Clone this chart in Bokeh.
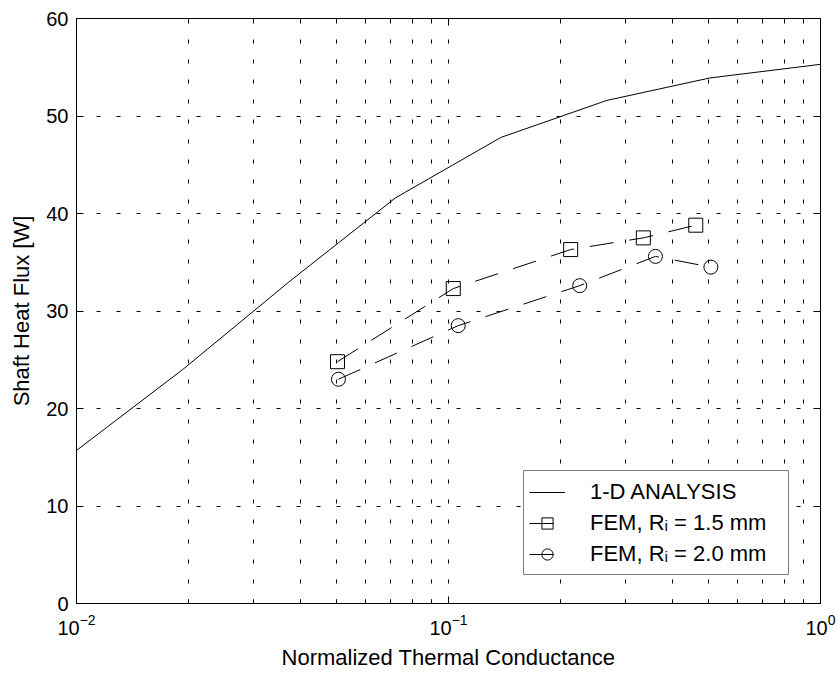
from bokeh.plotting import figure
from bokeh.models import FixedTicker, LogAxis, LinearAxis, Legend, LegendItem
from bokeh.embed import file_html
from bokeh.resources import INLINE

# ---- data ----
x_1d = [0.01, 0.0193, 0.0373, 0.0720, 0.1383, 0.2665, 0.504, 1.0]
y_1d = [15.7, 24.0, 33.0, 41.6, 47.8, 51.6, 53.9, 55.3]

x_fem15 = [0.0503, 0.103, 0.213, 0.334, 0.462]
y_fem15 = [24.8, 32.3, 36.3, 37.5, 38.8]

x_fem20 = [0.0506, 0.1062, 0.2253, 0.360, 0.5074]
y_fem20 = [23.0, 28.5, 32.6, 35.6, 34.5]

x_major_ticks = [0.01, 0.1, 1.0]
x_minor_ticks = [0.02, 0.03, 0.04, 0.05, 0.06, 0.07, 0.08, 0.09,
                 0.2, 0.3, 0.4, 0.5, 0.6, 0.7, 0.8, 0.9]
y_ticks = [0, 10, 20, 30, 40, 50, 60]

labels = ["1-D ANALYSIS", "FEM, R\u1d62 = 1.5 mm", "FEM, R\u1d62 = 2.0 mm"]
x_label = "Normalized Thermal Conductance"
y_label = "Shaft Heat Flux [W]"

FONT = "Liberation Sans"

p = figure(width=840, height=675, x_axis_type="log",
           x_range=(0.01, 1.0), y_range=(0, 60),
           output_backend="svg", toolbar_location=None,
           min_border_left=76, min_border_right=20,
           min_border_top=18, min_border_bottom=72)
p.background_fill_color = "white"
p.border_fill_color = "white"
p.outline_line_color = "black"
p.outline_line_width = 1

xt = FixedTicker(ticks=x_major_ticks, minor_ticks=x_minor_ticks)
yt = FixedTicker(ticks=y_ticks)

# bottom / left axes
xa = p.xaxis[0]
xa.ticker = xt
ya = p.yaxis[0]
ya.ticker = yt
for ax in (xa, ya):
    ax.axis_line_color = "black"
    ax.major_tick_in = 7
    ax.major_tick_out = 0
    ax.minor_tick_in = 4
    ax.minor_tick_out = 0
    ax.major_tick_line_color = "black"
    ax.minor_tick_line_color = "black"
    ax.major_label_text_font = FONT
    ax.major_label_text_font_size = "20px"
    ax.major_label_text_color = "black"
    ax.axis_label_text_font = FONT
    ax.axis_label_text_font_size = "22px"
    ax.axis_label_text_font_style = "normal"
    ax.axis_label_text_color = "black"
ya.minor_tick_line_color = None
xa.axis_label = x_label
ya.axis_label = y_label
xa.major_label_standoff = 10
xa.axis_label_standoff = 7
ya.major_label_standoff = 8
ya.axis_label_standoff = 9

# top / right axes (box with inward ticks, no labels)
top = LogAxis(ticker=xt)
right = LinearAxis(ticker=yt)
for ax in (top, right):
    ax.axis_line_color = "black"
    ax.major_tick_in = 7
    ax.major_tick_out = 0
    ax.minor_tick_in = 4
    ax.minor_tick_out = 0
    ax.major_label_text_font_size = "1px"
    ax.major_label_text_alpha = 0
    ax.major_label_standoff = 0
right.minor_tick_line_color = None
p.add_layout(top, "above")
p.add_layout(right, "right")

# grid
p.xgrid.ticker = xt
p.ygrid.ticker = yt
p.xgrid.grid_line_color = "black"
p.xgrid.grid_line_dash = "4 16"
p.xgrid.minor_grid_line_color = "black"
p.xgrid.minor_grid_line_dash = "4 16"
p.ygrid.grid_line_color = "black"
p.ygrid.grid_line_dash = "4 16"
p.ygrid.minor_grid_line_color = None

# data
r1 = p.line(x_1d, y_1d, line_color="black", line_width=1)
r2l = p.line(x_fem15, y_fem15, line_color="black", line_width=1, line_dash="24 16")
r2s = p.scatter(x_fem15, y_fem15, marker="square", size=14,
                line_color="black", fill_color=None, line_width=1)
r3l = p.line(x_fem20, y_fem20, line_color="black", line_width=1, line_dash="24 16")
r3s = p.scatter(x_fem20, y_fem20, marker="circle", size=14,
                line_color="black", fill_color=None, line_width=1)

legend = Legend(items=[
    LegendItem(label=labels[0], renderers=[r1]),
    LegendItem(label=labels[1], renderers=[r2l, r2s]),
    LegendItem(label=labels[2], renderers=[r3l, r3s]),
], location=(447, 28))
legend.margin = 0
legend.padding = 5
legend.spacing = 0
legend.label_height = 31
legend.glyph_height = 28
legend.glyph_width = 36
legend.label_standoff = 25
legend.label_width = 193
legend.label_text_font = FONT
legend.label_text_font_size = "22px"
legend.label_text_color = "black"
legend.border_line_color = "black"
legend.border_line_width = 1
legend.background_fill_color = "white"
legend.background_fill_alpha = 1
p.add_layout(legend)

open("out.html", "w").write(file_html(p, INLINE))
